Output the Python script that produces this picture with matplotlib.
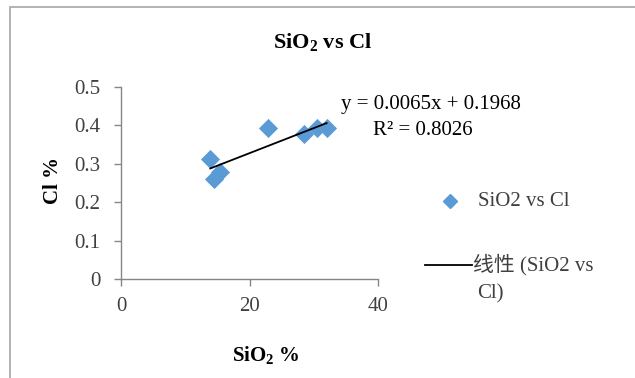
import numpy as np
import matplotlib
matplotlib.use("Agg")
import matplotlib.pyplot as plt
from matplotlib.lines import Line2D
from matplotlib.patches import Rectangle

plt.rcParams['font.family'] = ['Liberation Serif', 'Noto Sans CJK SC', 'DejaVu Sans']
plt.rcParams['mathtext.fontset'] = 'custom'
plt.rcParams['mathtext.rm'] = 'Liberation Serif'
plt.rcParams['mathtext.bf'] = 'Liberation Serif:bold'

sio2 = [13.9, 14.5, 15.4, 22.9, 28.5, 30.5, 32.0]
cl = [0.312, 0.262, 0.280, 0.393, 0.378, 0.393, 0.393]
x_ticks = [0, 20, 40]
y_ticks = [0, 0.1, 0.2, 0.3, 0.4, 0.5]
y_tick_labels = ['0', '0.1', '0.2', '0.3', '0.4', '0.5']
eq_text = "y = 0.0065x + 0.1968"
r2_text = "R² = 0.8026"

W, H = 635, 378
FS = 15
fig = plt.figure(figsize=(W/100, H/100), dpi=100)
fig.patch.set_facecolor('white')
# outer border
fig.add_artist(Rectangle((10/W, -0.1), 1.2, 1 - 6.5/H + 0.1, transform=fig.transFigure,
                         fill=False, edgecolor='#a6a6a6', linewidth=1.2))

ax = fig.add_axes([121/W, (H-279.3)/H, (378-121)/W, (279.3-87)/H])
ax.set_xlim(0, 40)
ax.set_ylim(0, 0.5)
ax.set_xticks(x_ticks)
ax.set_yticks(y_ticks)
ax.set_yticklabels(y_tick_labels)
for s in ['top', 'right']:
    ax.spines[s].set_visible(False)
for s in ['left', 'bottom']:
    ax.spines[s].set_color('#868686')
    ax.spines[s].set_linewidth(1.0)
ax.tick_params(colors='#868686', labelcolor='#404040', labelsize=FS, length=5, width=1.0)
ax.tick_params(axis='y', pad=10)
ax.tick_params(axis='x', pad=8)

ax.scatter(sio2, cl, marker='D', s=95, color='#5B9BD5', zorder=3, linewidths=0)
coef = np.polyfit(sio2, cl, 1)
xs = np.array([min(sio2), max(sio2)])
ax.plot(xs, np.polyval(coef, xs), color='black', linewidth=1.3, zorder=4)

fig.text(431/W, 1 - 104/H, eq_text, fontsize=FS, va='center', ha='center', color='black')
fig.text(423/W, 1 - 131/H, r2_text, fontsize=FS, va='center', ha='center', color='black')

fig.text(323/W, 1 - 42/H, r'$\mathbf{SiO_2}$' + ' vs Cl', fontsize=FS + 1, fontweight='bold',
         ha='center', va='center')
fig.text(266/W, 1 - 355/H, r'$\mathbf{SiO_2}$' + ' %', fontsize=FS, fontweight='bold',
         ha='center', va='center')
fig.text(53/W, 1 - 180/H, 'Cl %', fontsize=FS, fontweight='bold', rotation=90,
         ha='center', va='center')

# legend
fig.add_artist(Line2D([450/W], [1 - 201/H], marker='D', markersize=7, color='#5B9BD5',
                      linestyle='none', transform=fig.transFigure))
fig.text(478/W, 1 - 202/H, 'SiO2 vs Cl', fontsize=FS, ha='left', va='center', color='#404040')
fig.add_artist(Line2D([425/W, 472/W], [1 - 265/H, 1 - 265/H], color='black', linewidth=1.3,
                      transform=fig.transFigure))
fig.text(473/W, 1 - 265/H, '线性 (SiO2 vs', fontsize=FS, ha='left', va='center', color='#404040')
fig.text(477/W, 1 - 294/H, 'Cl)', fontsize=FS, ha='left', va='center', color='#404040')

fig.savefig('out.png', dpi=100)
